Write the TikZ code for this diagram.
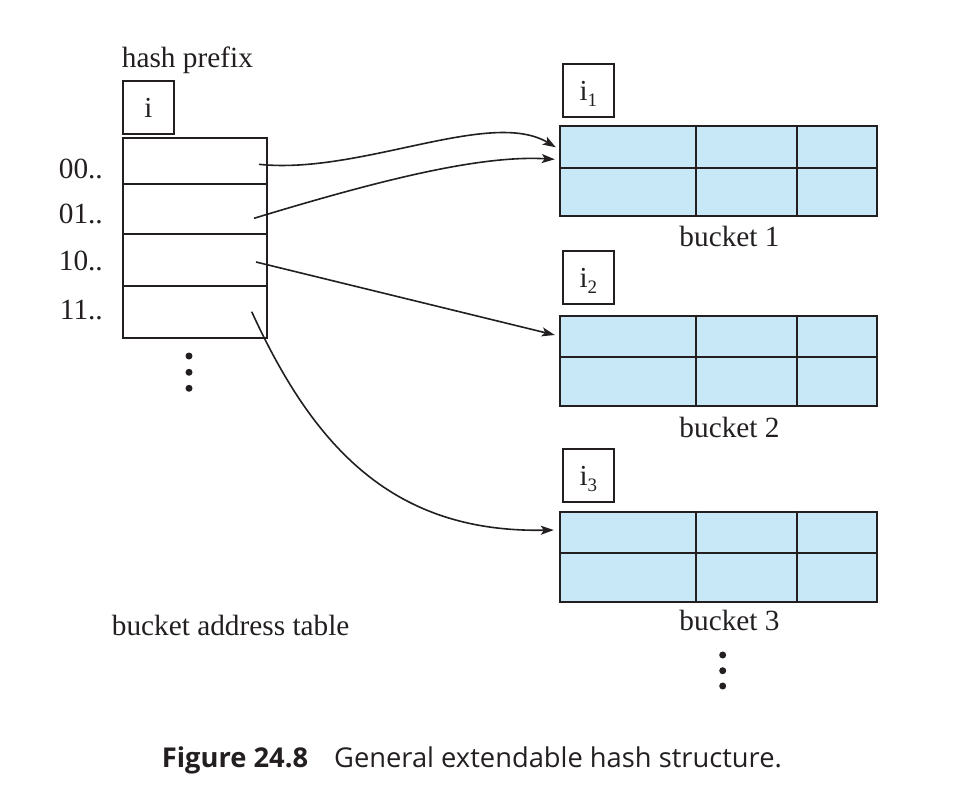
\documentclass[tikz,border=0pt]{standalone}
\usepackage{fontspec}
\setmainfont{Liberation Serif}
\newfontfamily\capfont{Open Sans}
\usetikzlibrary{arrows.meta,calc}
\definecolor{bucketblue}{RGB}{200,232,247}
\definecolor{ink}{RGB}{35,31,32}
\tikzset{
  txt/.style={font=\fontsize{29.3}{34}\selectfont, text=ink, inner sep=0pt},
  ibox/.style={draw=ink, line width=2pt, minimum width=51pt, minimum height=53pt, inner sep=0pt,
    font=\fontsize{29}{34}\selectfont, text=ink, text height=20pt, text depth=0pt},
  rowbox/.style={draw=ink, line width=2pt, minimum width=144pt, inner sep=0pt},
  bucketbox/.style={draw=ink, line width=2pt, fill=bucketblue, minimum width=317pt, minimum height=90pt, inner sep=0pt},
  grid/.style={draw=ink, line width=2pt},
  conn/.style={draw=ink, line width=1.6pt, -{Stealth[length=13pt,width=9pt,inset=3pt]}},
  dotmark/.style={circle, fill=ink, minimum size=7pt, inner sep=0pt}
}
\newcommand{\sub}[1]{\raisebox{-6pt}{\fontsize{19}{19}\selectfont #1}}
\begin{document}
\begin{tikzpicture}[x=1pt,y=-1pt]
\useasboundingbox (0,0) rectangle (977,793);
% left side
\node[txt, anchor=base west] (hp) at (121.7,67.3) {hash prefix};
\node[ibox] (ib) at (148.3,107) {i};
\node[rowbox, minimum height=46pt] (r0) at (194.7,161.3) {};
\node[rowbox, minimum height=50pt] (r1) at (194.7,209.3) {};
\node[rowbox, minimum height=51.7pt] (r2) at (194.7,260.2) {};
\node[rowbox, minimum height=52.3pt] (r3) at (194.7,312.2) {};
\node[txt, anchor=base east] (l0) at (103,178.3) {00..};
\node[txt, anchor=base east] (l1) at (103,223.3) {01..};
\node[txt, anchor=base east] (l2) at (103,270) {10..};
\node[txt, anchor=base east] (l3) at (103,319.3) {11..};
\node[dotmark] (d1) at (189,356) {};
\node[dotmark] (d2) at (189,372.3) {};
\node[dotmark] (d3) at (189,388.3) {};
\node[txt, anchor=base west] (bat) at (111.7,635) {bucket address table};
% buckets
\node[ibox] (i1) at (588.3,90.7) {i\sub{1}};
\node[bucketbox] (b1) at (718.3,171.3) {};
\node[txt, anchor=base] (bl1) at (729.5,246.7) {bucket 1};
\node[ibox] (i2) at (588.3,277.5) {i\sub{2}};
\node[bucketbox] (b2) at (718.3,360.5) {};
\node[txt, anchor=base] (bl2) at (729.5,437.3) {bucket 2};
\node[ibox] (i3) at (588.3,475.7) {i\sub{3}};
\node[bucketbox] (b3) at (718.3,556.7) {};
\node[txt, anchor=base] (bl3) at (729.5,630) {bucket 3};
\foreach \b in {b1,b2,b3}{
  \draw[grid] ($(\b.west)+(0,-3.5)$) -- ($(\b.east)+(0,-3.5)$);
  \draw[grid] ($(\b.north west)+(137,0)$) -- ($(\b.south west)+(137,0)$);
  \draw[grid] ($(\b.north west)+(237.7,0)$) -- ($(\b.south west)+(237.7,0)$);
}
\node[dotmark] (e1) at (722.7,655) {};
\node[dotmark] (e2) at (722.7,670.7) {};
\node[dotmark] (e3) at (722.7,686) {};
% connectors
\coordinate (s0) at ($(r0.center)+(64.3,3)$);
\coordinate (s1) at ($(r1.center)+(59.3,9)$);
\coordinate (s2) at ($(r2.center)+(61.3,1.8)$);
\coordinate (s3) at ($(r3.center)+(57,-0.5)$);
\coordinate (t0) at ($(b1.west)+(-3,-24)$);
\coordinate (t1) at ($(b1.west)+(-4,-12)$);
\coordinate (t2) at ($(b2.west)+(-4,-25.5)$);
\coordinate (t3) at ($(b3.west)+(-5,-26.7)$);
\draw[conn] (s0) .. controls (360,175) and (490,108) .. (t0);
\draw[conn] (s1) .. controls (380,180) and (480,155) .. (t1);
\draw[conn] (s2) -- (t2);
\draw[conn] (s3) .. controls (315,450) and (395,533) .. (t3);
% caption
\node[anchor=base west, inner sep=0pt, text=ink, font=\capfont\fontsize{27.3}{31}\selectfont] (cap) at (161.7,767.3)
  {\textbf{Figure 24.8}\hspace{26pt}General extendable hash structure.};
\end{tikzpicture}
\end{document}
